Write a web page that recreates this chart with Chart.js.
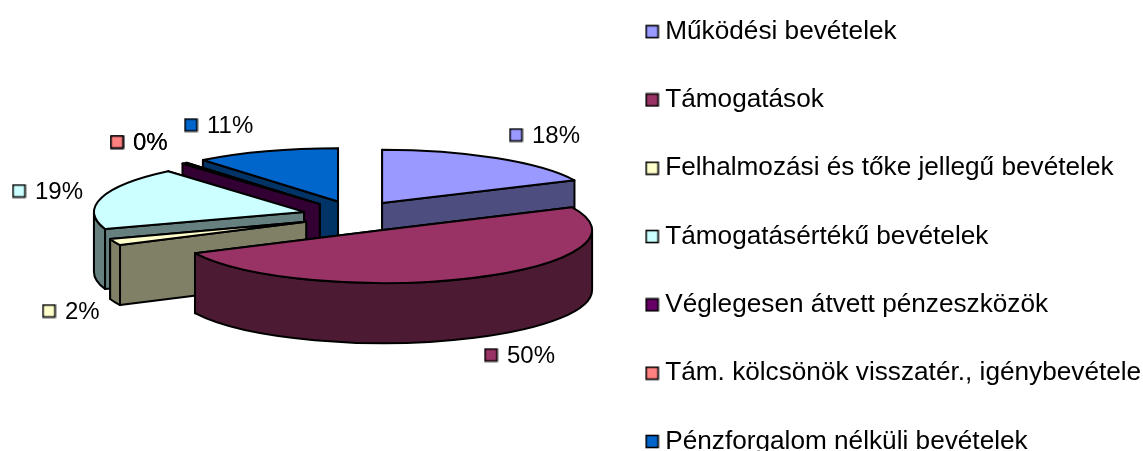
<!DOCTYPE html>
<html><head><meta charset="utf-8">
<style>html,body{margin:0;padding:0;background:#fff;overflow:hidden}canvas{display:block}</style>
<script src="https://cdn.jsdelivr.net/npm/chart.js@4"></script>
</head><body>
<canvas id="c" width="1143" height="451"></canvas>
<script>
const categories = ['Működési bevételek','Támogatások','Felhalmozási és tőke jellegű bevételek','Támogatásértékű bevételek','Véglegesen átvett pénzeszközök','Tám. kölcsönök visszatér., igénybevétele','Pénzforgalom nélküli bevételek'];
const shares = [18, 49.8, 2, 19, 0.4, 0, 10.8];
const faceColors = ['#9999FF','#993366','#FFFFCC','#CCFFFF','#660066','#FF8080','#0066CC'];
const wallColors = ['#4D4D80','#4D1A33','#808066','#668080','#330033','#804040','#003366'];
const labelSpots = [[516,135],[491,355],[49,311],[19,191],[117,142],[117,142],[191,125]];
const explodeX = [45,58,56,56,60,60,60];
const rimScale = [1.027,1.01,1,1.015,1.025,1,1.04];

const FONT = '"Liberation Sans", Arial, sans-serif';
const SQUASH = 0.257, EXPLODE = 60, DEPTH = 60;

function swatch(color){
  const s = document.createElement('canvas'); s.width = 15; s.height = 15;
  const x = s.getContext('2d');
  x.fillStyle = color; x.fillRect(1,1,13,13);
  x.strokeStyle = '#000'; x.lineWidth = 1.6; x.strokeRect(1.5,1.5,12,12);
  return s;
}
const swatches = faceColors.map(swatch);

const pie3d = {
  id:'pie3d',
  beforeLayout(chart){
    const lg = chart.legend;
    if(lg && !lg._wrapped){
      const fit = lg.fit;
      lg.fit = function(){ this.maxHeight = 2000; fit.call(this); this.width = 533; this.height = 451; };
      lg._wrapped = true;
    }
  },
  afterLayout(chart){
    const lg = chart.legend;
    lg.top = 0; lg.bottom = 520; lg.height = 520;
    lg.columnSizes[0].height = 525;
  },
  beforeDatasetsDraw(chart){
    const ctx = chart.ctx, arcs = chart.getDatasetMeta(0).data;
    const items = arcs.map((a,i)=>{
      const mid = (a.startAngle + a.endAngle)/2;
      return {i,s:a.startAngle,e:a.endAngle,r:a.outerRadius*rimScale[i],
        x:a.x+Math.cos(mid)*explodeX[i], y:a.y+Math.sin(mid)*EXPLODE*SQUASH, o:Math.sin(mid)};
    }).filter(t=>t.e-t.s>0).sort((p,q)=>p.o-q.o);
    ctx.save();
    ctx.lineWidth = 2; ctx.strokeStyle = '#000'; ctx.lineJoin = 'round';
    for(const t of items){
      const ry = arcs[t.i].outerRadius*SQUASH;
      const pt = a=>[t.x+t.r*Math.cos(a), t.y+ry*Math.sin(a)];
      const wall = a=>{
        const p = pt(a);
        ctx.beginPath(); ctx.moveTo(t.x,t.y); ctx.lineTo(p[0],p[1]);
        ctx.lineTo(p[0],p[1]+DEPTH); ctx.lineTo(t.x,t.y+DEPTH); ctx.closePath();
        ctx.fillStyle = wallColors[t.i]; ctx.fill(); ctx.stroke();
      };
      const my = a=>pt(a)[1];
      [t.s,t.e].sort((a,b)=>my(a)-my(b)).forEach(wall);
      const a0 = Math.max(t.s,0), a1 = Math.min(t.e,Math.PI);
      if(a1>a0){
        ctx.beginPath();
        ctx.ellipse(t.x,t.y,t.r,ry,0,a0,a1);
        ctx.ellipse(t.x,t.y+DEPTH,t.r,ry,0,a1,a0,true);
        ctx.closePath();
        ctx.fillStyle = wallColors[t.i]; ctx.fill(); ctx.stroke();
      }
      ctx.beginPath(); ctx.moveTo(t.x,t.y);
      ctx.ellipse(t.x,t.y,t.r,ry,0,t.s,t.e);
      ctx.closePath();
      ctx.fillStyle = faceColors[t.i]; ctx.fill(); ctx.stroke();
    }
    ctx.restore();
    return false;
  },
  afterDraw(chart){
    const ctx = chart.ctx, total = shares.reduce((a,b)=>a+b,0);
    ctx.save();
    ctx.font = '24px '+FONT; ctx.fillStyle = '#000'; ctx.textBaseline = 'middle'; ctx.textAlign='left';
    shares.forEach((v,i)=>{
      const [x,y] = labelSpots[i];
      ctx.drawImage(swatches[i],x-7.5,y-7.5);
      ctx.fillText(Math.round(v/total*100)+'%', x+16, y+1);
    });
    ctx.restore();
  }
};

new Chart(document.getElementById('c'),{
  type:'pie',
  data:{labels:categories,datasets:[{data:shares,backgroundColor:faceColors,borderColor:'#000',borderWidth:1}]},
  options:{
    responsive:false, animation:false, radius:207,
    layout:{padding:{left:106,bottom:19}},
    plugins:{
      tooltip:{enabled:false},
      legend:{display:true,position:'right',align:'center',
        labels:{
          font:{family:FONT,size:26.2,lineHeight:1},color:'#000',padding:42.1,
          usePointStyle:true,pointStyleWidth:0.01,boxHeight:14,
          generateLabels:c=>categories.map((t,i)=>({text:t,pointStyle:swatches[i],fillStyle:faceColors[i],strokeStyle:'#000',lineWidth:1,hidden:false,index:i,datasetIndex:0}))
        }}
    }
  },
  plugins:[pie3d]
});
</script>
</body></html>
